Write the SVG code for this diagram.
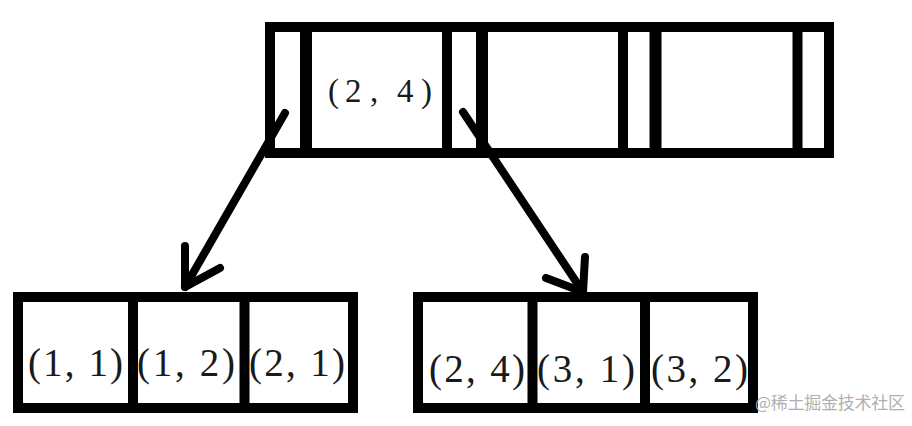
<svg xmlns="http://www.w3.org/2000/svg" width="912" height="426" viewBox="0 0 912 426">
<defs>
<style>
.box{fill:#fff;stroke:#000;stroke-width:10}
.div{stroke:#000;stroke-width:10}
.thick{stroke:#000;stroke-width:12}
.lbl{font-family:"Liberation Serif","Noto Sans CJK SC",serif;font-size:39px;fill:#1a1a1a}
.top{font-size:33px}
.arr{fill:none;stroke:#000;stroke-width:8;stroke-linecap:round;stroke-linejoin:round}
.wm{font-family:"Noto Sans CJK SC","Noto Sans",sans-serif;font-size:17px;fill:#b0b0b0}
</style>
</defs>
<rect width="912" height="426" fill="#fff"/>
<g id="root">
<rect class="box" x="270" y="27" width="559" height="126"/>
<line class="thick" x1="306" y1="27" x2="306" y2="153"/>
<line class="div" x1="447" y1="27" x2="447" y2="153"/>
<line class="thick" x1="482" y1="27" x2="482" y2="153"/>
<line class="div" x1="623" y1="27" x2="623" y2="153"/>
<line class="thick" x1="655.5" y1="27" x2="655.5" y2="153"/>
<line class="div" x1="797.5" y1="27" x2="797.5" y2="153"/>
<text class="lbl top" x="328 345 370 380 397 421" y="102">(2, 4)</text>
</g>
<g id="leaf-left">
<rect class="box" x="18" y="297" width="335" height="111"/>
<line class="div" x1="133" y1="297" x2="133" y2="408"/>
<line class="div" x1="244.5" y1="297" x2="244.5" y2="408"/>
<text class="lbl" x="28" y="376" textLength="95" lengthAdjust="spacing">(1, 1)</text>
<text class="lbl" x="137" y="376" textLength="98" lengthAdjust="spacing">(1, 2)</text>
<text class="lbl" x="249" y="376" textLength="96" lengthAdjust="spacing">(2, 1)</text>
</g>
<g id="leaf-right">
<rect class="box" x="418" y="297" width="335" height="111"/>
<line class="div" x1="532.5" y1="297" x2="532.5" y2="408"/>
<line class="div" x1="645" y1="297" x2="645" y2="408"/>
<text class="lbl" x="429" y="382" textLength="96" lengthAdjust="spacing">(2, 4)</text>
<text class="lbl" x="537" y="382" textLength="98" lengthAdjust="spacing">(3, 1)</text>
<text class="lbl" x="651" y="382" textLength="97" lengthAdjust="spacing">(3, 2)</text>
</g>
<g id="connectors">
<path class="arr" d="M285,113 L185,287"/>
<path class="arr" d="M185,246 L185,287 L220,268"/>
<path class="arr" d="M463,112 L583,292"/>
<path class="arr" d="M585,257 L583,292 L546,278"/>
</g>
<text class="wm" x="755" y="409" textLength="150" lengthAdjust="spacing">@稀土掘金技术社区</text>
</svg>
